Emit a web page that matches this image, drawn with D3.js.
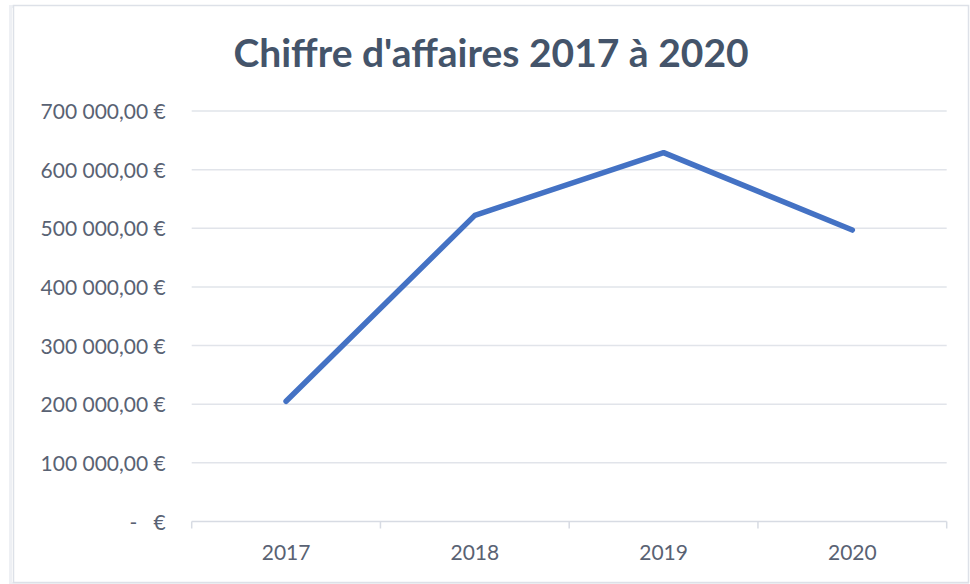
<!DOCTYPE html>
<html>
<head>
<meta charset="utf-8">
<script src="https://cdn.jsdelivr.net/npm/d3@7"></script>
<style>
  body { margin: 0; background: #ffffff; }
  svg { display: block; }
</style>
</head>
<body>
<svg id="chart"></svg>
<script>

// data
var years = ["2017", "2018", "2019", "2020"]
var revenue = [205000, 522000, 629000, 497000]
var yTicks = [0, 100000, 200000, 300000, 400000, 500000, 600000, 700000]
var title = "Chiffre d'affaires 2017 à 2020"

var dimensions = {
    width: 970,
    height: 584,
    margin: {
        top: 111,
        bottom: 62.5,
        right: 23.3,
        left: 191.7
    }
}

var svg = d3.select("#chart")
    .attr("width", dimensions.width)
    .attr("height", dimensions.height)

// chart frame
svg.append("rect")
    .attr("x", 10.5)
    .attr("y", 6.5)
    .attr("width", 957)
    .attr("height", 577)
    .attr("fill", "none")
    .attr("stroke", "#eef0f4")
    .attr("stroke-width", 3)
svg.append("rect")
    .attr("x", 13.5)
    .attr("y", 5.5)
    .attr("width", 955)
    .attr("height", 577)
    .attr("fill", "#ffffff")
    .attr("stroke", "#dde1e8")
    .attr("stroke-width", 1.5)

var xScale = d3.scaleBand()
    .domain(years)
    .range([dimensions.margin.left, dimensions.width - dimensions.margin.right])
    .padding(0)

var yScale = d3.scaleLinear()
    .domain([0, 700000])
    .range([dimensions.height - dimensions.margin.bottom, dimensions.margin.top])

// french accounting-style labels
var fr = d3.formatLocale({decimal: ",", thousands: " ", grouping: [3], currency: ["", " €"]})
var fmt = fr.format(",.2f")
function euro(v) {
    if (v == 0) return "-   €"
    return fmt(v) + " €"
}

// gridlines
svg.append("g")
    .selectAll("line")
    .data(yTicks.filter(d => d > 0))
    .enter()
    .append("line")
    .attr("x1", xScale.range()[0])
    .attr("x2", xScale.range()[1])
    .attr("y1", d => yScale(d))
    .attr("y2", d => yScale(d))
    .attr("stroke", "#e1e4ea")
    .attr("stroke-width", 1.5)

// y labels
var yAxisgen = d3.axisLeft(yScale)
    .tickValues(yTicks)
    .tickFormat(euro)
    .tickSize(0)
    .tickPadding(26)

var yAxis = svg.append("g")
    .attr("transform", "translate(" + dimensions.margin.left + ",0)")
    .call(yAxisgen)
yAxis.select(".domain").remove()
yAxis.selectAll("text")
    .style("white-space", "pre")
    .attr("font-family", "Lato")
    .attr("font-size", 21)
    .attr("fill", "#596273")
    .attr("dy", "0.36em")

// x axis, ticks between categories
var xAxis = svg.append("g")
xAxis.append("line")
    .attr("x1", xScale.range()[0])
    .attr("x2", xScale.range()[1])
    .attr("y1", yScale(0))
    .attr("y2", yScale(0))
    .attr("stroke", "#d7dbe3")
    .attr("stroke-width", 1.5)
xAxis.selectAll(".tick")
    .data(years.map(d => xScale(d)).concat([xScale.range()[1]]))
    .enter()
    .append("line")
    .attr("x1", d => d)
    .attr("x2", d => d)
    .attr("y1", yScale(0))
    .attr("y2", yScale(0) + 7)
    .attr("stroke", "#d7dbe3")
    .attr("stroke-width", 1.5)
xAxis.selectAll("text")
    .data(years)
    .enter()
    .append("text")
    .attr("x", d => xScale(d) + xScale.bandwidth() / 2)
    .attr("y", 560)
    .attr("text-anchor", "middle")
    .attr("font-family", "Lato")
    .attr("font-size", 21)
    .attr("fill", "#596273")
    .text(d => d)

// line
var line = d3.line()
    .x((d, i) => xScale(years[i]) + xScale.bandwidth() / 2)
    .y(d => yScale(d))

svg.append("path")
    .datum(revenue)
    .attr("d", line)
    .attr("fill", "none")
    .attr("stroke", "#4472c4")
    .attr("stroke-width", 5.5)
    .attr("stroke-linejoin", "round")
    .attr("stroke-linecap", "round")

// title
svg.append("text")
    .attr("x", 491)
    .attr("y", 67)
    .attr("text-anchor", "middle")
    .attr("font-family", "Lato")
    .attr("font-weight", "bold")
    .attr("font-size", 39)
    .attr("fill", "#44546a")
    .text(title)

</script>
</body>
</html>
